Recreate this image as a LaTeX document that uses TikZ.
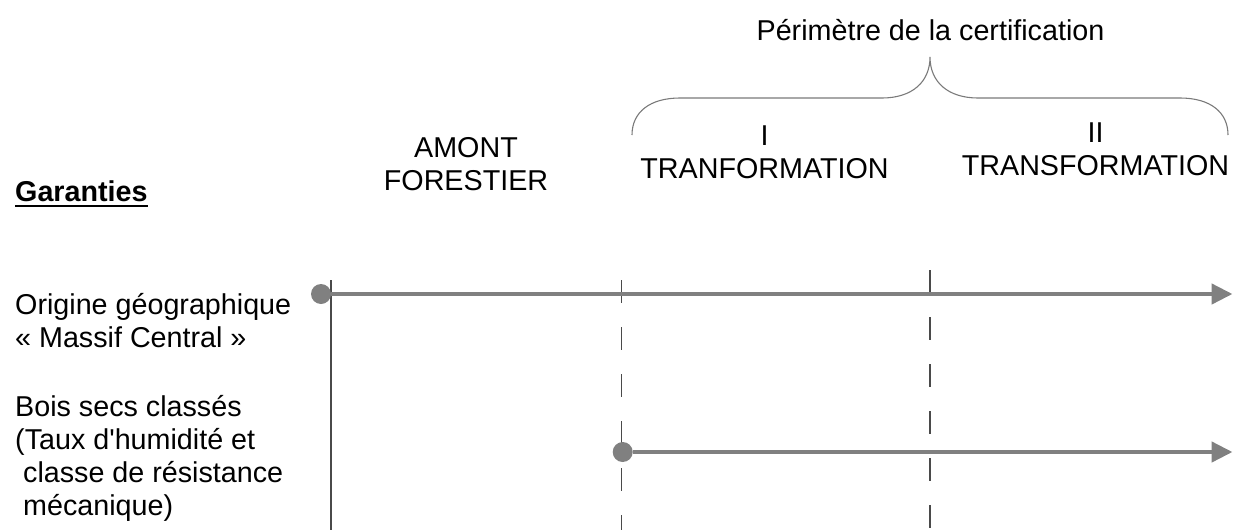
\documentclass[tikz,border=0pt]{standalone}
\usepackage{fontspec}
\setmainfont{Liberation Sans}[Ligatures=TeXOff]
\usetikzlibrary{arrows.meta}
\definecolor{flow}{HTML}{808080}
\definecolor{guide}{HTML}{4A4A4A}
\definecolor{bracegray}{HTML}{7A7A7A}
% stacked lines whose baseline is that of the first line
\newcommand\centredlines[1]{\vtop{\halign{\hfil##\hfil\cr#1\crcr}}}
\newcommand\leftlines[1]{\vtop{\halign{##\hfil\cr#1\crcr}}}
\begin{document}
\begin{tikzpicture}[x=1pt,y=-1pt,
  txt/.style={inner sep=0pt, font=\fontsize{28.7}{33}\selectfont},
  startdot/.style={circle, fill=flow, draw=none, inner sep=0pt, minimum size=20pt},
  flowline/.style={draw=flow, line width=4.5pt, -{Triangle[length=21pt,width=20pt]}},
  solidguide/.style={draw=guide, line width=1.2pt},
  dashguide/.style={draw=guide, line width=1.2pt, dash pattern=on 23pt off 24pt},
  bracepath/.style={draw=bracegray, line width=1.1pt}]
\useasboundingbox (0,0) rectangle (1233,530);

% headings
\node[txt, anchor=base] (scope) at (930.5,40) {Périmètre de la certification};
\node[txt, anchor=base] (amont) at (466,157) {\centredlines{AMONT\cr FORESTIER}};
\node[txt, anchor=base] (first) at (764.5,145) {\centredlines{I\cr TRANFORMATION}};
\node[txt, anchor=base] (second) at (1095.5,142) {\centredlines{II\cr TRANSFORMATION}};

% brace over the certified stages
\draw[bracepath] (632,135) .. controls (632,112) and (650,98) .. (680,98)
  -- (882,98) .. controls (912,98) and (930,82) .. (930,57)
  .. controls (930,82) and (948,98) .. (978,98)
  -- (1180,98) .. controls (1210,98) and (1228,112) .. (1228,135);

% guarantees column
\node[txt, anchor=base west, font=\fontsize{28.7}{33}\selectfont\bfseries] (gar) at (15,201.7) {Garanties};
\draw[line width=2.2pt] ([yshift=-4.2pt]gar.base west) -- ([yshift=-4.2pt]gar.base east);
\node[txt, anchor=base west] (origine) at (15,314) {\leftlines{Origine géographique\cr « Massif Central »}};
\node[txt, anchor=base west] (bois) at (15,416) {\leftlines{Bois secs classés\cr (Taux d'humidité et\cr \ classe de résistance\cr \ mécanique)}};

% stage boundaries
\coordinate (b1t) at (331,280);  \coordinate (b1b) at (331,530);
\coordinate (b2t) at (621.3,280); \coordinate (b2b) at (621.3,530);
\coordinate (b3t) at (930,270);  \coordinate (b3b) at (930,530);
\draw[solidguide] (b1t) -- (b1b);
\draw[dashguide] (b2t) -- (b2b);
\draw[dashguide] (b3t) -- (b3b);

% guarantee spans
\node[startdot] (o1) at (321,294) {};
\coordinate (o1end) at (1232.5,294);
\draw[flowline] (o1) -- (o1end);
\node[startdot] (o2) at (622.7,452) {};
\coordinate (o2end) at (1232.5,452);
\draw[flowline] (o2) -- (o2end);
\end{tikzpicture}
\end{document}
